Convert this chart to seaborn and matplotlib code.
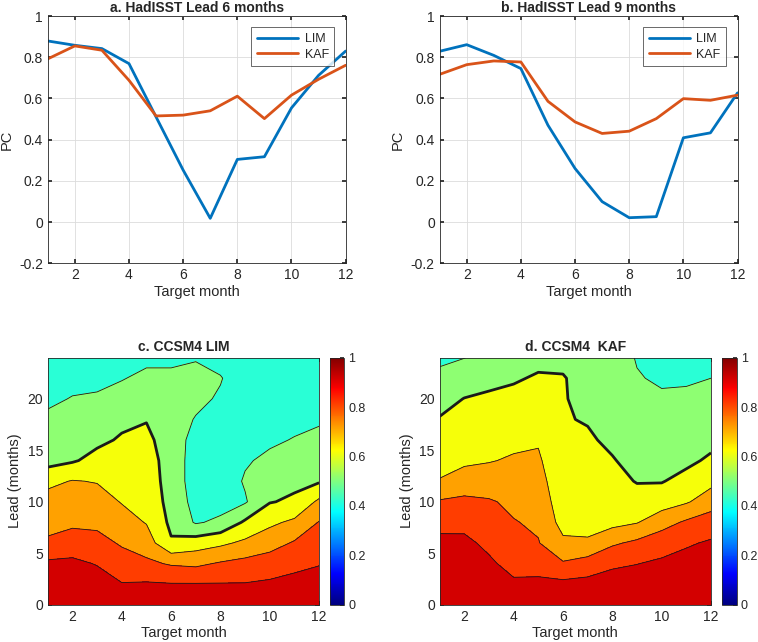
import numpy as np
import pandas as pd
import matplotlib
matplotlib.use('Agg')
import matplotlib.pyplot as plt
from matplotlib.colors import LinearSegmentedColormap
import seaborn as sns

months = list(range(1, 13))

# panel a/b: HadISST pattern correlation
lim_lead6 = [0.879, 0.858, 0.842, 0.769, 0.51, 0.252, 0.018, 0.304, 0.317, 0.554, 0.712, 0.83]
kaf_lead6 = [0.792, 0.855, 0.834, 0.688, 0.515, 0.519, 0.54, 0.611, 0.502, 0.616, 0.693, 0.761]
lim_lead9 = [0.829, 0.861, 0.809, 0.745, 0.47, 0.26, 0.099, 0.021, 0.026, 0.409, 0.433, 0.627]
kaf_lead9 = [0.717, 0.764, 0.782, 0.777, 0.586, 0.486, 0.43, 0.441, 0.502, 0.599, 0.591, 0.616]

# panel c/d: CCSM4 skill, one list per target month, values at leads 0,2,...,24
leads = list(range(0, 25, 2))
ccsm4_lim = [
    [0.97, 0.95, 0.92, 0.81, 0.78, 0.74, 0.675, 0.565, 0.55, 0.52, 0.48, 0.45, 0.43],
    [0.97, 0.95, 0.92, 0.85, 0.78, 0.74, 0.705, 0.59, 0.56, 0.53, 0.505, 0.47, 0.44],
    [0.97, 0.94, 0.895, 0.83, 0.78, 0.74, 0.695, 0.63, 0.58, 0.545, 0.51, 0.48, 0.45],
    [0.96, 0.905, 0.84, 0.79, 0.74, 0.695, 0.67, 0.64, 0.61, 0.58, 0.535, 0.495, 0.46],
    [0.96, 0.91, 0.82, 0.75, 0.695, 0.68, 0.665, 0.65, 0.625, 0.595, 0.56, 0.52, 0.48],
    [0.96, 0.905, 0.79, 0.61, 0.58, 0.56, 0.55, 0.55, 0.545, 0.54, 0.53, 0.51, 0.49],
    [0.96, 0.905, 0.78, 0.65, 0.49, 0.47, 0.46, 0.46, 0.47, 0.495, 0.52, 0.52, 0.495],
    [0.96, 0.905, 0.81, 0.68, 0.52, 0.46, 0.44, 0.44, 0.45, 0.47, 0.49, 0.505, 0.47],
    [0.96, 0.905, 0.83, 0.72, 0.615, 0.49, 0.51, 0.49, 0.44, 0.43, 0.44, 0.45, 0.44],
    [0.965, 0.915, 0.85, 0.76, 0.68, 0.595, 0.56, 0.52, 0.485, 0.46, 0.44, 0.43, 0.42],
    [0.97, 0.93, 0.875, 0.81, 0.72, 0.615, 0.58, 0.545, 0.505, 0.475, 0.455, 0.44, 0.43],
    [0.97, 0.94, 0.895, 0.85, 0.805, 0.72, 0.59, 0.56, 0.52, 0.49, 0.47, 0.455, 0.44],
]
ccsm4_kaf = [
    [0.97, 0.96, 0.94, 0.925, 0.87, 0.81, 0.705, 0.67, 0.64, 0.605, 0.57, 0.525, 0.48],
    [0.97, 0.96, 0.94, 0.92, 0.875, 0.82, 0.75, 0.68, 0.66, 0.635, 0.602, 0.555, 0.498],
    [0.97, 0.95, 0.915, 0.88, 0.845, 0.81, 0.745, 0.695, 0.67, 0.645, 0.615, 0.575, 0.53],
    [0.96, 0.915, 0.87, 0.835, 0.805, 0.78, 0.75, 0.71, 0.68, 0.655, 0.625, 0.59, 0.55],
    [0.96, 0.92, 0.865, 0.805, 0.785, 0.765, 0.74, 0.715, 0.69, 0.665, 0.64, 0.61, 0.575],
    [0.96, 0.925, 0.81, 0.72, 0.665, 0.64, 0.625, 0.615, 0.61, 0.605, 0.605, 0.605, 0.58],
    [0.96, 0.93, 0.845, 0.71, 0.675, 0.655, 0.64, 0.625, 0.61, 0.595, 0.58, 0.57, 0.56],
    [0.965, 0.94, 0.885, 0.785, 0.67, 0.655, 0.63, 0.605, 0.585, 0.57, 0.56, 0.55, 0.54],
    [0.97, 0.945, 0.898, 0.82, 0.695, 0.64, 0.595, 0.575, 0.56, 0.545, 0.53, 0.505, 0.495],
    [0.97, 0.95, 0.915, 0.86, 0.76, 0.655, 0.595, 0.565, 0.545, 0.525, 0.51, 0.49, 0.48],
    [0.975, 0.955, 0.93, 0.89, 0.815, 0.69, 0.63, 0.58, 0.555, 0.535, 0.515, 0.49, 0.47],
    [0.975, 0.96, 0.94, 0.91, 0.855, 0.75, 0.675, 0.615, 0.575, 0.55, 0.525, 0.5, 0.48],
]

line_colors = ['#0072BD', '#D95319']
txt = '#262626'

# matlab style jet
mjet = LinearSegmentedColormap.from_list('mjet', [
    (0.0, (0, 0, 0.5)), (0.125, (0, 0, 1)), (0.375, (0, 1, 1)),
    (0.625, (1, 1, 0)), (0.875, (1, 0, 0)), (1.0, (0.5, 0, 0))])

sns.set_theme(style='ticks')
plt.rcParams['font.family'] = ['Liberation Sans', 'DejaVu Sans']
plt.rcParams.update({
    'xtick.direction': 'in', 'ytick.direction': 'in',
    'xtick.top': True, 'ytick.right': True,
    'xtick.color': txt, 'ytick.color': txt,
    'xtick.labelsize': 10, 'ytick.labelsize': 10,
    'axes.labelcolor': txt, 'axes.edgecolor': txt, 'axes.linewidth': 0.6,
    'xtick.major.size': 3, 'ytick.major.size': 3,
})

fig = plt.figure(figsize=(7.58, 6.42), dpi=100)


def line_panel(rect, lim, kaf, title):
    ax = fig.add_axes(rect)
    df = pd.DataFrame({'month': months * 2, 'pc': lim + kaf,
                       'model': ['LIM'] * 12 + ['KAF'] * 12})
    sns.lineplot(data=df, x='month', y='pc', hue='model', palette=line_colors,
                 linewidth=2, ax=ax)
    ax.set_xlim(1, 12)
    ax.set_ylim(-0.2, 1)
    ax.set_xticks([2, 4, 6, 8, 10, 12])
    yt = [-0.2, 0, 0.2, 0.4, 0.6, 0.8, 1]
    ax.set_yticks(yt)
    ax.set_yticklabels(['-0.2', '0', '0.2', '0.4', '0.6', '0.8', '1'])
    ax.grid(True, color='#dcdcdc', linewidth=0.6)
    ax.set_xlabel('Target month', fontsize=10.5, labelpad=2)
    ax.set_ylabel('PC', fontsize=10.5)
    ax.set_title(title, fontsize=10, fontweight='bold', pad=3)
    leg = ax.legend(loc='upper right', fontsize=9, frameon=True, fancybox=False,
                    edgecolor=txt, handlelength=3.3, borderaxespad=0.9,
                    labelspacing=0.3, handletextpad=0.5, borderpad=0.45)
    leg.get_frame().set_linewidth(0.6)
    return ax


def contour_panel(rect, crect, data, title):
    ax = fig.add_axes(rect)
    z = np.array(data).T
    lv = np.arange(0, 1.01, 0.1)
    fills = [mjet(l + 0.015) for l in lv[:-1]]
    ax.contourf(months, leads, z, levels=lv, colors=fills)
    thin = [l for l in lv if abs(l - 0.6) > 1e-6]
    ax.contour(months, leads, z, levels=thin, colors='k', linewidths=0.6)
    ax.contour(months, leads, z, levels=[0.6], colors='k', linewidths=2)
    ax.set_xlim(1, 12)
    ax.set_ylim(0, 24)
    ax.set_xticks([2, 4, 6, 8, 10, 12])
    ax.set_yticks([0, 5, 10, 15, 20])
    ax.set_xlabel('Target month', fontsize=10.5, labelpad=2)
    ax.set_ylabel('Lead (months)', fontsize=10.5)
    ax.set_title(title, fontsize=10, fontweight='bold', pad=5)
    cax = fig.add_axes(crect)
    sm = plt.cm.ScalarMappable(norm=plt.Normalize(0, 1), cmap=mjet)
    cb = fig.colorbar(sm, cax=cax, ticks=[0, 0.2, 0.4, 0.6, 0.8, 1])
    cb.ax.set_yticklabels(['0', '0.2', '0.4', '0.6', '0.8', '1'])
    cb.outline.set_linewidth(0.6)
    cb.ax.tick_params(direction='in', length=3, labelsize=9, pad=3)
    return ax


line_panel([0.063, 0.590, 0.393, 0.385], lim_lead6, kaf_lead6, 'a. HadISST Lead 6 months')
line_panel([0.580, 0.590, 0.393, 0.385], lim_lead9, kaf_lead9, 'b. HadISST Lead 9 months')
contour_panel([0.063, 0.058, 0.358, 0.385], [0.435, 0.058, 0.019, 0.385], ccsm4_lim, 'c. CCSM4 LIM')
contour_panel([0.580, 0.058, 0.358, 0.385], [0.953, 0.058, 0.019, 0.385], ccsm4_kaf, 'd. CCSM4  KAF')

fig.savefig('out.png', dpi=100)
